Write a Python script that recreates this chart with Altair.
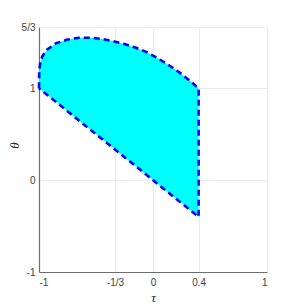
import altair as alt
import pandas as pd

# upper boundary of the region
tau = [-1.0, -0.998, -0.99, -0.97, -0.93, -0.85, -0.75, -0.65, -0.55, -0.45,
       -0.35, -0.25, -0.15, -0.05, 0.05, 0.15, 0.25, 0.33, 0.4]
theta_upper = [1.0, 1.18, 1.27, 1.35, 1.42, 1.49, 1.53, 1.55, 1.55, 1.537,
               1.513, 1.482, 1.441, 1.39, 1.32, 1.242, 1.155, 1.075, 1.0]
# lower boundary (straight edge)
theta_lower = [1.0, 0.998, 0.99, 0.97, 0.93, 0.85, 0.75, 0.65, 0.55, 0.45,
               0.35, 0.25, 0.15, 0.05, -0.05, -0.15, -0.25, -0.33, -0.4]

x_ticks = [-1, -1 / 3, 0, 0.4, 1]
x_labels = ["-1", "-1/3", "0", "0.4", "1"]
y_ticks = [-1, 0, 1, 5 / 3]
y_labels = ["-1", "0", "1", "5/3"]


def label_expr(ticks, labels):
    expr = "''"
    for t, l in reversed(list(zip(ticks, labels))):
        expr = f"abs(datum.value - ({t})) < 1e-6 ? '{l}' : " + expr
    return expr


area_df = pd.DataFrame({"tau": tau, "up": theta_upper, "lo": theta_lower})

b_tau = list(tau) + list(reversed(tau))
b_theta = list(theta_upper) + list(reversed(theta_lower))
bound_df = pd.DataFrame({"tau": b_tau, "theta": b_theta, "ord": list(range(len(b_tau)))})

xscale = alt.Scale(domain=[-1, 1], nice=False, zero=False)
yscale = alt.Scale(domain=[-1, 5 / 3], nice=False, zero=False)

axis_common = dict(
    grid=True, gridColor="#ebebeb", gridWidth=1, ticks=False,
    domainColor="#6e6e6e", domainWidth=1.2,
    labelFont="Liberation Sans", labelFontSize=10, labelColor="#404040",
    titleFont="Liberation Serif", titleFontStyle="italic", titleFontWeight="normal",
    titleFontSize=13, titleColor="#262626",
)

xaxis = alt.Axis(values=x_ticks, labelExpr=label_expr(x_ticks, x_labels), title="τ",
                 labelPadding=5, titleX=114, titleY=29, titleBaseline="alphabetic",
                 titleAlign="center", **axis_common)
yaxis = alt.Axis(values=y_ticks, labelExpr=label_expr(y_ticks, y_labels), title="θ",
                 labelPadding=4, titleX=-21, titleY=118, titleBaseline="alphabetic",
                 titleAlign="center", titleAngle=-90, **axis_common)

area = alt.Chart(area_df).mark_area(color="#00ffff", opacity=1).encode(
    x=alt.X("tau:Q", scale=xscale, axis=xaxis),
    y=alt.Y("up:Q", scale=yscale, axis=yaxis),
    y2="lo:Q",
)

line = alt.Chart(bound_df).mark_line(color="#0000ff", strokeWidth=2.6,
                                     strokeDash=[6, 4]).encode(
    x="tau:Q", y="theta:Q", order="ord:Q"
)

chart = (area + line).properties(
    width=228, height=245,
    autosize=alt.AutoSizeParams(type="none"),
    padding={"left": 31, "top": 19, "right": 20, "bottom": 31},
).configure_view(stroke=None)

chart.save("out.html", embed_options={"renderer": "svg", "actions": False})
